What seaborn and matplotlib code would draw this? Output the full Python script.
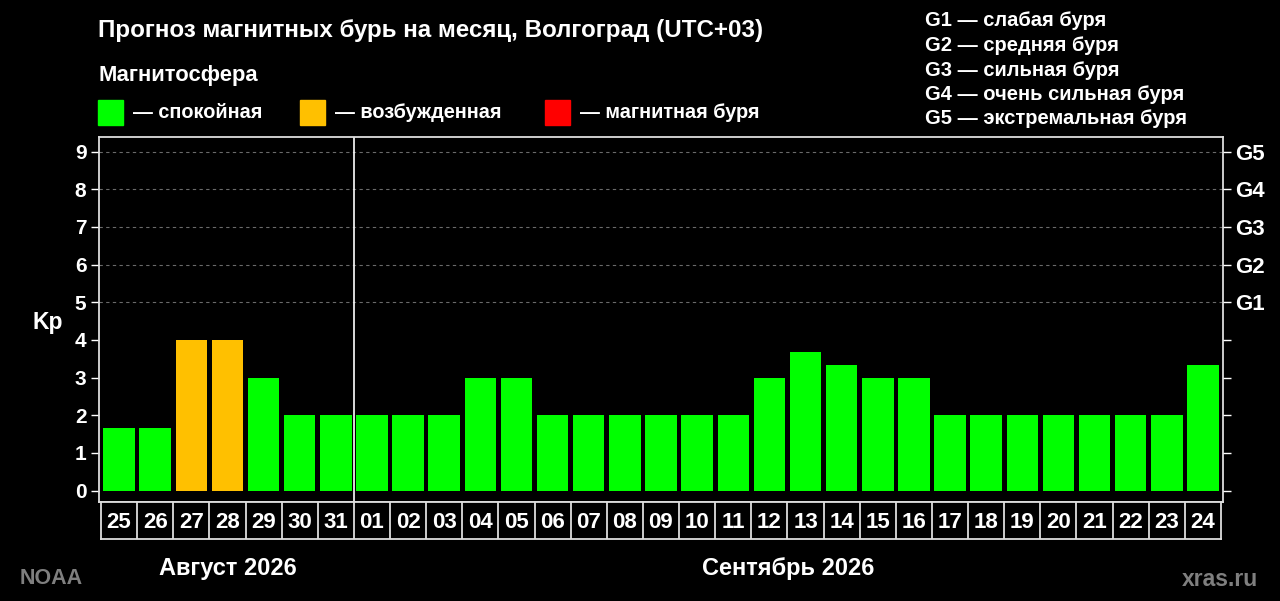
import numpy as np
import pandas as pd
import seaborn as sns
import matplotlib
matplotlib.use("Agg")
import matplotlib.pyplot as plt
from matplotlib.patches import Rectangle

days = ["25", "26", "27", "28", "29", "30", "31",
        "01", "02", "03", "04", "05", "06", "07", "08", "09", "10",
        "11", "12", "13", "14", "15", "16", "17", "18", "19", "20",
        "21", "22", "23", "24"]
kp = [1.67, 1.67, 4, 4, 3, 2, 2,
      2, 2, 2, 3, 3, 2, 2, 2, 2, 2,
      2, 3, 3.67, 3.33, 3, 3, 2, 2, 2, 2,
      2, 2, 2, 3.33]
months = ["Август 2026", "Сентябрь 2026"]
month_days = [7, 24]
status_names = ["спокойная", "возбужденная", "магнитная буря"]
status_colors = ["#00ff00", "#ffc000", "#ff0000"]
g_labels = ["G1", "G2", "G3", "G4", "G5"]
g_text = ["слабая буря", "средняя буря", "сильная буря",
          "очень сильная буря", "экстремальная буря"]

status = [status_names[0] if v < 4 else (status_names[1] if v < 5 else status_names[2]) for v in kp]
df = pd.DataFrame({"day": days, "kp": kp, "status": status})

sns.set_style("dark")
plt.rcParams["font.family"] = ["Liberation Sans", "DejaVu Sans"]
plt.rcParams["font.weight"] = "bold"

fig = plt.figure(figsize=(12.8, 6.01), dpi=100, facecolor="black")
ax = fig.add_axes([0.0773, 0.1647, 0.8782, 0.6073])
ax.set_facecolor("black")

sns.barplot(data=df, x="day", y="kp", hue="status", order=days,
            hue_order=status_names, palette=dict(zip(status_names, status_colors)),
            dodge=False, width=0.87, legend=False, saturation=1, ax=ax, zorder=3,
            linewidth=0, edgecolor="none")

ax.set_xlim(-0.555, len(days) - 0.445)
ax.set_ylim(-0.305, 9.385)
for y in range(5, 10):
    ax.axhline(y, color="#6a6a6a", lw=0.8, ls=(0, (3, 3)), zorder=1)
ax.axvline(month_days[0] - 0.5, color="white", lw=1.2, zorder=2)
ax.grid(False)
ax.set_xticks([])
ax.set_xlabel("")
ax.set_ylabel("")
ax.set_yticks(range(10))
ax.tick_params(axis="y", colors="white", labelsize=15, length=6, width=1, direction="out", pad=3)
for s in ax.spines.values():
    s.set_color("#dddddd")
    s.set_linewidth(1.3)
    s.set_visible(True)
fig.text(48 / 1280, 1 - 323 / 601, "Kp", color="white", fontsize=16.5,
         fontweight="bold", ha="center", va="center")

axr = ax.twinx()
axr.set_ylim(ax.get_ylim())
axr.set_yticks(range(10))
axr.set_yticklabels([""] * 5 + g_labels)
axr.tick_params(axis="y", colors="white", labelsize=16, length=6, width=1, pad=3)
axr.grid(False)
for s in axr.spines.values():
    s.set_visible(False)

# day label boxes
axd = fig.add_axes([0.0789, 0.1032, 0.875, 0.0616])
axd.set_facecolor("black")
axd.set_xlim(-0.5, len(days) - 0.5)
axd.set_ylim(0, 1)
for i, d in enumerate(days):
    axd.text(i, 0.45, d, color="white", fontsize=16, fontweight="bold",
             ha="center", va="center")
axd.vlines(np.arange(len(days) - 1) + 0.5, 0, 1, color="#dddddd", lw=1.3)
axd.set_xticks([])
axd.set_yticks([])
axd.grid(False)
for s in axd.spines.values():
    s.set_color("#dddddd")
    s.set_linewidth(1.3)

# month labels
fig.text(228 / 1280, 1 - 568 / 601, months[0], color="white", fontsize=17,
         fontweight="bold", ha="center", va="center")
fig.text(788 / 1280, 1 - 568 / 601, months[1], color="white", fontsize=17,
         fontweight="bold", ha="center", va="center")

fig.text(98 / 1280, 1 - 30 / 601, "Прогноз магнитных бурь на месяц, Волгоград (UTC+03)",
         color="white", fontsize=17.4, fontweight="bold", va="center")
fig.text(98 / 1280, 1 - 76 / 601, "Магнитосфера", color="white", fontsize=15.8,
         fontweight="bold", va="center")
legend_x = [98, 300, 545]
for x0, name, col in zip(legend_x, status_names, status_colors):
    fig.patches.append(Rectangle((x0 / 1280, 1 - 125 / 601), 25 / 1280, 25 / 601,
                                 transform=fig.transFigure, color=col, figure=fig))
    fig.text((x0 + 35) / 1280, 1 - 112 / 601, "— " + name, color="white", fontsize=14.3,
             fontweight="bold", va="center")

for i, (g, t) in enumerate(zip(g_labels, g_text)):
    fig.text(925 / 1280, 1 - (21 + i * 24.5) / 601, g + " — " + t, color="white",
             fontsize=14.5, fontweight="bold", va="center")

fig.text(20 / 1280, 1 - 579 / 601, "NOAA", color="#7f7f7f", fontsize=15.5,
         fontweight="bold", va="center")
fig.text(1258 / 1280, 1 - 580 / 601, "xras.ru", color="#7f7f7f", fontsize=16.5,
         fontweight="bold", va="center", ha="right")

fig.savefig("out.png", dpi=100, facecolor="black")
